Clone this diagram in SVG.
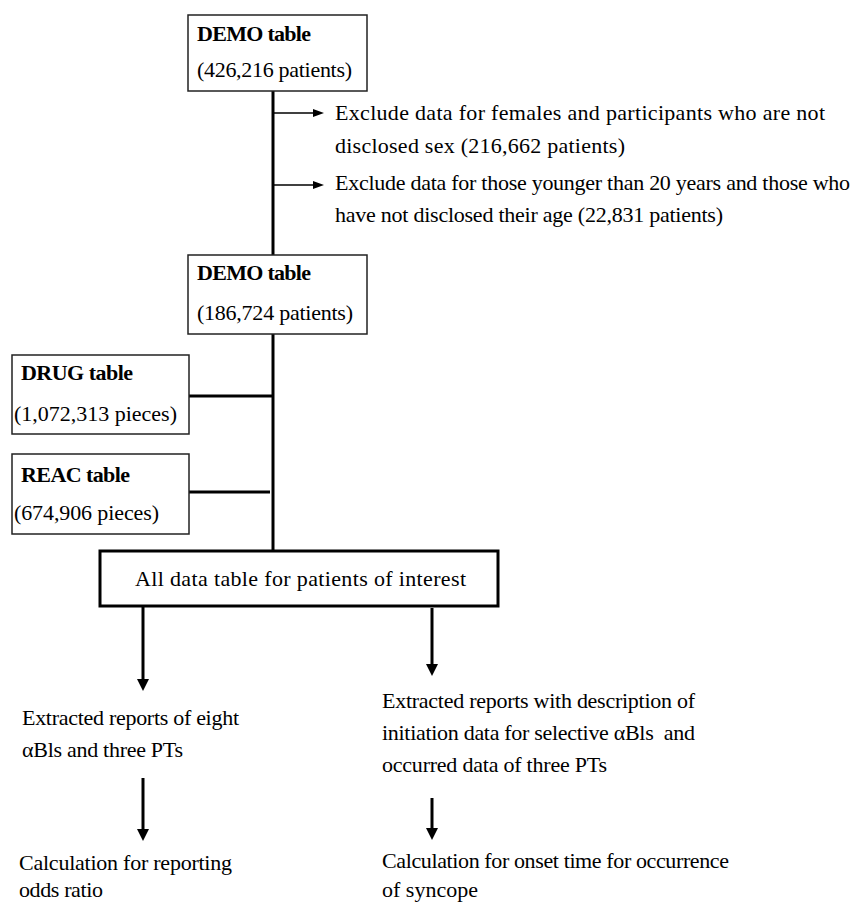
<svg xmlns="http://www.w3.org/2000/svg" width="855" height="902" viewBox="0 0 855 902">
  <style>
    text { font-family: "Liberation Serif", "Times New Roman", serif; font-size: 22px; fill: #000; }
    .b { font-weight: bold; }
    .box { fill: #fff; stroke: #222; stroke-width: 1.5; }
    .boxk { fill: #fff; stroke: #000; stroke-width: 3; }
    .main { stroke: #000; stroke-width: 3; fill: none; }
    .thin { stroke: #000; stroke-width: 1.3; fill: none; }
  </style>
  <defs>
    <marker id="ahs" markerUnits="userSpaceOnUse" markerWidth="12" markerHeight="9" refX="3" refY="4" orient="auto">
      <path d="M0,0 L11,4 L0,8 z" fill="#000"/>
    </marker>
    <marker id="ahb" markerUnits="userSpaceOnUse" markerWidth="14" markerHeight="13" refX="4" refY="6" orient="auto">
      <path d="M0,0 L12,6 L0,12 z" fill="#000"/>
    </marker>
  </defs>
  <rect width="855" height="902" fill="#fff"/>

  <g id="connectors">
    <line class="main" x1="273" y1="91" x2="273" y2="255"/>
    <line class="main" x1="273" y1="334" x2="273" y2="551"/>
    <line class="thin" x1="273" y1="113" x2="316" y2="113" marker-end="url(#ahs)"/>
    <line class="thin" x1="273" y1="185" x2="316" y2="185" marker-end="url(#ahs)"/>
    <line class="main" x1="189" y1="396" x2="273" y2="396"/>
    <line class="main" x1="189" y1="492" x2="270" y2="492"/>
    <line class="main" x1="143" y1="606" x2="143" y2="683" marker-end="url(#ahb)"/>
    <line class="main" x1="432" y1="608" x2="432" y2="668" marker-end="url(#ahb)"/>
    <line class="main" x1="143" y1="778" x2="143" y2="833" marker-end="url(#ahb)"/>
    <line class="main" x1="432" y1="798" x2="432" y2="832" marker-end="url(#ahb)"/>
  </g>

  <g id="demo1">
    <rect class="box" x="188" y="15" width="179" height="76"/>
    <text class="b" x="197" y="41" textLength="114">DEMO table</text>
    <text x="197" y="77" textLength="155">(426,216 patients)</text>
  </g>

  <g id="exclude1">
    <text x="335" y="120" textLength="490">Exclude data for females and participants who are not</text>
    <text x="335" y="153" textLength="290">disclosed sex (216,662 patients)</text>
  </g>

  <g id="exclude2">
    <text x="335" y="190" textLength="515">Exclude data for those younger than 20 years and those who</text>
    <text x="335" y="222" textLength="388">have not disclosed their age (22,831 patients)</text>
  </g>

  <g id="demo2">
    <rect class="box" x="188" y="255" width="179" height="79"/>
    <text class="b" x="197" y="280" textLength="114">DEMO table</text>
    <text x="197" y="320" textLength="156">(186,724 patients)</text>
  </g>

  <g id="drug">
    <rect class="box" x="12" y="355" width="177" height="79"/>
    <text class="b" x="21" y="380" textLength="112">DRUG table</text>
    <text x="14" y="421" textLength="163">(1,072,313 pieces)</text>
  </g>

  <g id="reac">
    <rect class="box" x="12" y="454" width="177" height="80"/>
    <text class="b" x="21" y="482" textLength="109">REAC table</text>
    <text x="14" y="520" textLength="145">(674,906 pieces)</text>
  </g>

  <g id="alldata">
    <rect class="boxk" x="100" y="551" width="398" height="55"/>
    <text x="135" y="586" textLength="331">All data table for patients of interest</text>
  </g>

  <g id="extracted-left">
    <text x="22" y="725" textLength="217">Extracted reports of eight</text>
    <text x="22" y="757" textLength="161">αBls and three PTs</text>
  </g>

  <g id="extracted-right">
    <text x="382" y="708" textLength="313">Extracted reports with description of</text>
    <text x="382" y="740" textLength="313" style="white-space:pre">initiation data for selective αBls  and</text>
    <text x="382" y="772" textLength="225">occurred data of three PTs</text>
  </g>

  <g id="calc-left">
    <text x="19" y="870" textLength="213">Calculation for reporting</text>
    <text x="19" y="897" textLength="84">odds ratio</text>
  </g>

  <g id="calc-right">
    <text x="382" y="868" textLength="347">Calculation for onset time for occurrence</text>
    <text x="382" y="897">of syncope</text>
  </g>
</svg>
